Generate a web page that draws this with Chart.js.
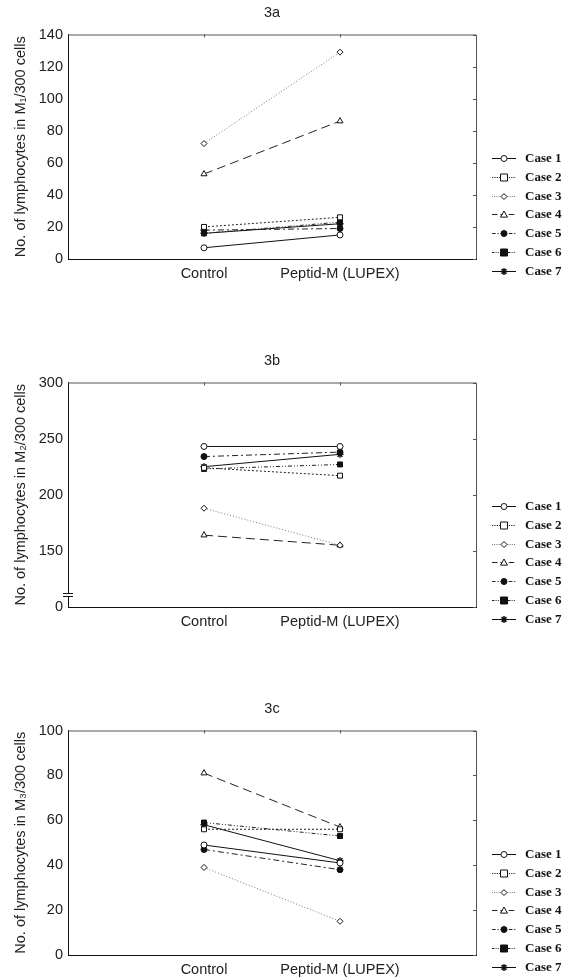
<!DOCTYPE html>
<html>
<head>
<meta charset="utf-8">
<script src="https://cdn.jsdelivr.net/npm/chart.js@4/dist/chart.umd.min.js"></script>
<style>
  html, body { margin: 0; padding: 0; background: #ffffff; }
  body { width: 563px; height: 979px; position: relative; overflow: hidden; }
  canvas { position: absolute; left: 0; }
</style>
</head>
<body>
<canvas id="chartA" width="563" height="283" style="top:0px"></canvas>
<canvas id="chartB" width="563" height="283" style="top:348px"></canvas>
<canvas id="chartC" width="563" height="283" style="top:696px"></canvas>
<script>
// ---------------- data ----------------
const categories = ['Control', 'Peptid-M (LUPEX)'];
const xTickLabels = ['', 'Control', 'Peptid-M (LUPEX)', ''];
const caseNames = ['Case 1', 'Case 2', 'Case 3', 'Case 4', 'Case 5', 'Case 6', 'Case 7'];

// 3a : lymphocytes in M1 / 300 cells
const m1Control = [7, 20, 72, 53, 18, 16, 16];
const m1Peptid  = [15, 26, 129, 86, 19, 23, 22];
// 3b : lymphocytes in M2 / 300 cells
const m2Control = [243, 224, 188, 164, 234, 223, 225];
const m2Peptid  = [243, 217, 155, 155, 238, 227, 236];
// 3c : lymphocytes in M3 / 300 cells
const m3Control = [49, 56, 39, 81, 47, 59, 58];
const m3Peptid  = [41, 56, 15, 57, 38, 53, 42];

const panelTitles = ['3a', '3b', '3c'];
const yTitles = ['No. of lymphocytes in M\u2081/300 cells',
                 'No. of lymphocytes in M\u2082/300 cells',
                 'No. of lymphocytes in M\u2083/300 cells'];

// ---------------- styles ----------------
const caseStyles = [
  { dash: [],                 color: '#111', pointStyle: 'circle',   radius: 3,   fill: '#fff' },
  { dash: [2, 2],             color: '#222', pointStyle: 'rect',     radius: 3.5, fill: '#fff' },
  { dash: [1, 2],             color: '#777', pointStyle: 'rectRot',  radius: 3,   fill: '#fff' },
  { dash: [9, 5],             color: '#222', pointStyle: 'triangle', radius: 3.5, fill: '#fff' },
  { dash: [6, 3, 2, 3],       color: '#222', pointStyle: 'circle',   radius: 3,   fill: '#111' },
  { dash: [4, 2, 1, 2, 1, 2], color: '#222', pointStyle: 'rect',     radius: 3.5, fill: '#111' },
  { dash: [],                 color: '#111', pointStyle: 'star',     radius: 3.5, fill: '#111' }
];

const FS = 14.5;
Chart.defaults.font.family = "'Liberation Sans', Arial, Helvetica, sans-serif";
Chart.defaults.font.size = FS;
Chart.defaults.color = '#222';

function drawMarker(ctx, style, x, y) {
  const r = style.radius;
  ctx.save();
  ctx.setLineDash([]);
  ctx.lineWidth = 1;
  ctx.strokeStyle = '#111';
  ctx.fillStyle = style.fill;
  ctx.beginPath();
  if (style.pointStyle === 'circle') {
    ctx.arc(x, y, r, 0, Math.PI * 2);
    ctx.fill(); ctx.stroke();
  } else if (style.pointStyle === 'rect') {
    ctx.rect(x - r, y - r, 2 * r, 2 * r);
    ctx.fill(); ctx.stroke();
  } else if (style.pointStyle === 'rectRot') {
    ctx.moveTo(x, y - r); ctx.lineTo(x + r, y); ctx.lineTo(x, y + r); ctx.lineTo(x - r, y); ctx.closePath();
    ctx.fill(); ctx.stroke();
  } else if (style.pointStyle === 'triangle') {
    ctx.moveTo(x, y - r); ctx.lineTo(x + r, y + r * 0.75); ctx.lineTo(x - r, y + r * 0.75); ctx.closePath();
    ctx.fill(); ctx.stroke();
  } else {
    ctx.lineWidth = 1.5;
    ctx.moveTo(x - r, y); ctx.lineTo(x + r, y);
    ctx.moveTo(x, y - r); ctx.lineTo(x, y + r);
    ctx.moveTo(x - r * 0.7, y - r * 0.7); ctx.lineTo(x + r * 0.7, y + r * 0.7);
    ctx.moveTo(x - r * 0.7, y + r * 0.7); ctx.lineTo(x + r * 0.7, y - r * 0.7);
    ctx.stroke();
  }
  ctx.restore();
}

// frame (top / right), inward ticks, axis break, side legend
const framePlugin = {
  id: 'framePlugin',
  afterDraw(chart, args, opts) {
    const ctx = chart.ctx;
    const a = chart.chartArea;
    const ys = chart.scales.y;
    const xs = chart.scales.x;
    ctx.save();
    ctx.lineWidth = 1;
    ctx.strokeStyle = '#555';
    ctx.beginPath();
    ctx.moveTo(a.left, a.top + 0.5); ctx.lineTo(a.right + 0.5, a.top + 0.5);
    ctx.lineTo(a.right + 0.5, a.bottom);
    ctx.stroke();
    // inward ticks on right border
    ctx.beginPath();
    ys.ticks.forEach(t => {
      const py = Math.round(ys.getPixelForValue(t.value)) + 0.5;
      ctx.moveTo(a.right, py); ctx.lineTo(a.right - 3, py);
    });
    // inward ticks on top border at categories
    [1, 2].forEach(i => {
      const px = Math.round(xs.getPixelForValue(i)) + 0.5;
      ctx.moveTo(px, a.top); ctx.lineTo(px, a.top + 3);
    });
    ctx.stroke();
    // axis break
    if (opts.breakAt !== undefined) {
      const by = ys.getPixelForValue(opts.breakAt);
      ctx.strokeStyle = '#111';
      ctx.fillStyle = '#fff';
      ctx.fillRect(a.left - 1.5, by - 1.5, 3, 3);
      ctx.beginPath();
      ctx.moveTo(a.left - 5, Math.round(by - 1.5) + 0.5); ctx.lineTo(a.left + 5, Math.round(by - 1.5) + 0.5);
      ctx.moveTo(a.left - 5, Math.round(by + 1.5) + 0.5); ctx.lineTo(a.left + 5, Math.round(by + 1.5) + 0.5);
      ctx.stroke();
    }
    // legend
    const rowGap = 18.8;
    const firstY = a.bottom - 101;
    const x0 = 492, x1 = 516, tx = 525;
    ctx.font = "bold 13px 'Liberation Serif', 'Times New Roman', serif";
    ctx.textBaseline = 'middle';
    ctx.textAlign = 'left';
    chart.data.datasets.forEach((ds, i) => {
      const st = caseStyles[i];
      const yy = Math.round(firstY + i * rowGap) + 0.5;
      ctx.save();
      ctx.strokeStyle = st.color;
      ctx.lineWidth = 1;
      ctx.setLineDash(st.dash.length ? st.dash.map(v => Math.max(1, v * 0.6)) : []);
      ctx.beginPath(); ctx.moveTo(x0, yy); ctx.lineTo(x1, yy); ctx.stroke();
      ctx.restore();
      drawMarker(ctx, st, (x0 + x1) / 2, yy);
      ctx.fillStyle = '#111';
      ctx.fillText(ds.label, tx, yy + 0.5);
    });
    ctx.restore();
  }
};

function makePanel(canvasId, title, yTitle, controlVals, peptidVals, yMin, yMax, yStep, tickFmt, breakAt) {
  const datasets = caseNames.map((name, i) => {
    const st = caseStyles[i];
    return {
      label: name,
      data: [null, controlVals[i], peptidVals[i], null],
      borderColor: st.color,
      borderWidth: 1,
      borderDash: st.dash,
      pointStyle: st.pointStyle,
      pointRadius: st.radius,
      pointBackgroundColor: st.fill,
      pointBorderColor: '#111',
      pointBorderWidth: st.pointStyle === 'star' ? 1.5 : 1,
      fill: false,
      tension: 0,
      spanGaps: false
    };
  });
  return new Chart(document.getElementById(canvasId), {
    type: 'line',
    data: { labels: xTickLabels, datasets: datasets },
    plugins: [framePlugin],
    options: {
      responsive: false,
      animation: false,
      devicePixelRatio: 1,
      layout: { padding: { left: 0, right: 87, top: 0, bottom: 0 } },
      plugins: {
        legend: { display: false },
        tooltip: { enabled: false },
        title: {
          display: true, text: title, fullSize: false,
          font: { size: FS, weight: 'normal' }, color: '#222',
          padding: { top: 4.6, bottom: 12.5 }
        },
        framePlugin: { breakAt: breakAt }
      },
      scales: {
        x: {
          type: 'category',
          offset: false,
          grid: { display: false, drawTicks: false },
          border: { display: true, color: '#111', width: 1 },
          ticks: { padding: 6, autoSkip: false, maxRotation: 0, color: '#222', font: { size: FS } },
          afterFit(s) { s.height = 24; }
        },
        y: {
          min: yMin, max: yMax,
          grid: { display: false, drawTicks: false },
          border: { display: true, color: '#111', width: 1 },
          ticks: { stepSize: yStep, padding: 5, color: '#222', font: { size: FS },
                   callback: tickFmt },
          title: { display: true, text: yTitle, color: '#222', font: { size: FS }, padding: { top: 12, bottom: 0 } },
          afterFit(s) { s.width = 68; }
        }
      }
    }
  });
}

const plainFmt = v => String(v);
const brokenFmt = v => (v === 100 ? '0' : String(v));

makePanel('chartA', panelTitles[0], yTitles[0], m1Control, m1Peptid, 0, 140, 20, plainFmt);
makePanel('chartB', panelTitles[1], yTitles[1], m2Control, m2Peptid, 100, 300, 50, brokenFmt, 111);
makePanel('chartC', panelTitles[2], yTitles[2], m3Control, m3Peptid, 0, 100, 20, plainFmt);
</script>
</body>
</html>
